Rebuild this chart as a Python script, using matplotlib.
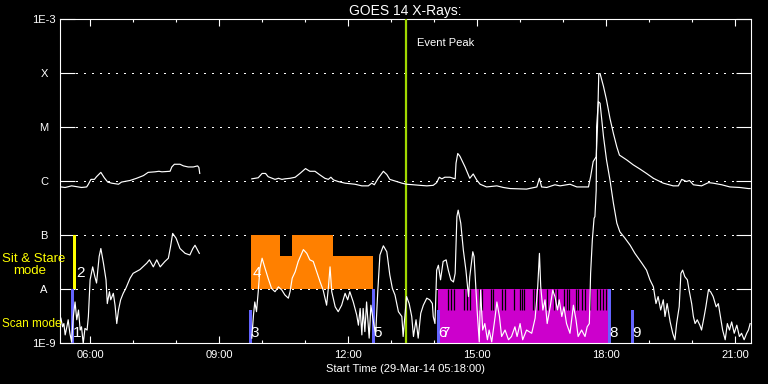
import numpy as np
import matplotlib
matplotlib.use("Agg")
import matplotlib.pyplot as plt
from matplotlib.ticker import NullLocator

plt.rcParams['font.family'] = ['Liberation Sans', 'DejaVu Sans']

# GOES 14 XRS, (hour UT, log10 flux W/m^2); data gap between 08:33 and 09:45
long_am = [(5.32, -6.11), (5.42, -6.12), (5.57, -6.09), (5.65, -6.10), (5.80, -6.12),
           (5.92, -6.11), (5.96, -6.06), (6.02, -5.97), (6.10, -5.97), (6.15, -5.92),
           (6.25, -5.84), (6.33, -5.94), (6.41, -6.02), (6.50, -6.04), (6.66, -6.06),
           (6.73, -6.02), (6.93, -5.99), (7.08, -5.95), (7.24, -5.90), (7.35, -5.84),
           (7.51, -5.83), (7.60, -5.82), (7.67, -5.83), (7.86, -5.82), (7.90, -5.74),
           (7.96, -5.69), (8.09, -5.69), (8.17, -5.72), (8.28, -5.74), (8.40, -5.74),
           (8.50, -5.72), (8.53, -5.75), (8.55, -5.86)]
long_pm = [(9.76, -5.96), (9.91, -5.94), (10.00, -5.86), (10.08, -5.86), (10.14, -5.92),
           (10.30, -5.97), (10.38, -5.95), (10.46, -5.97), (10.53, -5.96), (10.65, -5.95),
           (10.77, -5.93), (10.88, -5.86), (11.01, -5.77), (11.11, -5.82), (11.23, -5.82),
           (11.35, -5.89), (11.46, -5.95), (11.54, -5.97), (11.60, -5.93), (11.66, -5.98),
           (11.77, -6.01), (11.93, -6.04), (12.16, -6.06), (12.32, -6.09), (12.47, -6.09),
           (12.55, -6.04), (12.61, -6.07), (12.70, -5.95), (12.82, -5.82), (12.90, -5.88),
           (12.97, -5.97), (13.09, -6.00), (13.25, -6.04), (13.36, -6.06), (13.52, -6.07),
           (13.67, -6.08), (13.83, -6.09), (13.98, -6.08), (14.06, -6.03), (14.12, -5.93),
           (14.18, -5.96), (14.25, -5.93), (14.37, -5.93), (14.49, -5.96), (14.51, -5.67),
           (14.55, -5.49), (14.60, -5.54), (14.72, -5.74), (14.83, -5.95), (14.91, -5.87),
           (14.99, -5.98), (15.07, -6.06), (15.22, -6.11), (15.46, -6.09), (15.61, -6.12),
           (15.77, -6.14), (16.15, -6.15), (16.39, -6.11), (16.45, -5.95), (16.50, -6.11),
           (16.62, -6.12), (16.81, -6.07), (16.93, -6.09), (17.16, -6.06), (17.32, -6.11),
           (17.59, -6.11), (17.64, -5.92), (17.70, -5.64), (17.77, -5.55), (17.80, -4.99),
           (17.83, -4.01), (17.86, -4.01), (17.94, -4.25), (18.01, -4.50), (18.09, -4.84),
           (18.17, -5.12), (18.25, -5.37), (18.31, -5.52), (18.48, -5.61), (18.63, -5.70),
           (18.79, -5.78), (18.94, -5.86), (19.10, -5.95), (19.33, -6.04), (19.56, -6.09),
           (19.68, -6.09), (19.76, -5.97), (19.87, -6.01), (19.94, -5.99), (20.03, -6.07),
           (20.22, -6.09), (20.38, -6.03), (20.49, -6.04), (20.69, -6.07), (20.88, -6.11),
           (21.11, -6.12), (21.31, -6.14), (21.35, -6.14)]

short_am = [(5.32, -8.54), (5.36, -8.70), (5.39, -8.64), (5.42, -8.85), (5.46, -8.70),
            (5.49, -8.57), (5.53, -8.82), (5.57, -8.98), (5.61, -8.51), (5.65, -8.24),
            (5.69, -8.57), (5.73, -8.39), (5.77, -8.76), (5.80, -8.70), (5.84, -9.01),
            (5.88, -8.73), (5.93, -8.76), (5.96, -8.51), (6.00, -7.83), (6.06, -7.59),
            (6.11, -7.77), (6.15, -7.89), (6.21, -7.40), (6.25, -7.25), (6.31, -7.52),
            (6.37, -7.83), (6.40, -8.27), (6.45, -8.05), (6.48, -8.20), (6.54, -8.08),
            (6.58, -8.30), (6.62, -8.64), (6.66, -8.39), (6.71, -8.20), (6.77, -8.08),
            (6.83, -7.99), (6.93, -7.80), (7.00, -7.71), (7.16, -7.64), (7.32, -7.52),
            (7.38, -7.46), (7.47, -7.59), (7.55, -7.46), (7.63, -7.59), (7.74, -7.49),
            (7.82, -7.43), (7.87, -7.22), (7.92, -6.97), (8.00, -7.06), (8.09, -7.25),
            (8.21, -7.34), (8.32, -7.37), (8.39, -7.25), (8.44, -7.19), (8.54, -7.34)]
short_pm = [(9.76, -8.91), (9.80, -8.48), (9.83, -8.24), (9.87, -8.42), (9.91, -8.05),
            (9.95, -7.62), (10.00, -7.43), (10.07, -7.62), (10.14, -7.80), (10.22, -7.99),
            (10.30, -8.05), (10.38, -7.96), (10.46, -8.02), (10.53, -8.11), (10.61, -8.17),
            (10.65, -8.05), (10.70, -7.80), (10.77, -7.68), (10.84, -7.49), (10.96, -7.27),
            (11.04, -7.34), (11.11, -7.46), (11.19, -7.49), (11.27, -7.68), (11.35, -7.87),
            (11.42, -8.02), (11.50, -8.30), (11.54, -7.99), (11.58, -7.59), (11.62, -8.05),
            (11.70, -8.33), (11.77, -8.42), (11.85, -8.30), (11.93, -8.08), (11.99, -8.20),
            (12.04, -8.05), (12.12, -8.24), (12.20, -8.48), (12.24, -8.67), (12.28, -8.36),
            (12.32, -8.85), (12.35, -8.36), (12.39, -8.79), (12.43, -8.24), (12.49, -8.91),
            (12.53, -8.30), (12.59, -8.61), (12.64, -8.85), (12.69, -8.05), (12.74, -7.37),
            (12.82, -7.20), (12.90, -7.31), (12.97, -7.74), (13.03, -7.99), (13.09, -8.11),
            (13.17, -8.42), (13.25, -8.51), (13.28, -8.88), (13.36, -8.14), (13.42, -8.27),
            (13.48, -8.51), (13.52, -8.88), (13.58, -8.57), (13.63, -8.91), (13.69, -8.45),
            (13.75, -8.30), (13.83, -8.17), (13.90, -8.20), (13.96, -8.27), (13.98, -8.51),
            (14.02, -8.64), (14.06, -7.65), (14.10, -7.56), (14.15, -7.83), (14.21, -7.49),
            (14.28, -7.46), (14.33, -7.65), (14.39, -7.83), (14.45, -7.87), (14.49, -7.71),
            (14.53, -6.66), (14.56, -6.54), (14.62, -6.78), (14.68, -7.28), (14.74, -7.65),
            (14.80, -8.14), (14.83, -7.77), (14.90, -7.31), (14.93, -7.40), (14.97, -7.96),
            (15.00, -8.39), (15.05, -8.98), (15.08, -8.02), (15.13, -8.76), (15.18, -8.64),
            (15.24, -8.94), (15.28, -8.76), (15.34, -8.98), (15.42, -8.51), (15.46, -8.24),
            (15.52, -8.51), (15.57, -8.88), (15.65, -8.76), (15.73, -8.94), (15.80, -8.88),
            (15.88, -8.70), (15.93, -8.88), (16.00, -8.64), (16.06, -8.94), (16.15, -8.76),
            (16.27, -8.82), (16.35, -8.54), (16.41, -7.96), (16.45, -7.34), (16.48, -7.96),
            (16.53, -8.39), (16.58, -8.20), (16.63, -8.64), (16.70, -8.33), (16.76, -8.02),
            (16.81, -8.14), (16.87, -8.39), (16.91, -8.20), (16.97, -8.51), (17.02, -8.33),
            (17.08, -8.64), (17.16, -8.82), (17.24, -8.30), (17.30, -8.57), (17.35, -8.88),
            (17.43, -8.76), (17.51, -8.88), (17.56, -8.70), (17.61, -8.64), (17.64, -7.71),
            (17.68, -7.09), (17.72, -6.69), (17.74, -6.66), (17.77, -6.17), (17.78, -4.99),
            (17.82, -4.53), (17.86, -4.56), (17.94, -5.18), (18.01, -5.61), (18.09, -5.98),
            (18.17, -6.41), (18.25, -6.78), (18.32, -6.94), (18.44, -7.06), (18.56, -7.19),
            (18.67, -7.34), (18.75, -7.43), (18.83, -7.52), (18.94, -7.65), (19.02, -7.83),
            (19.10, -7.96), (19.16, -8.27), (19.21, -8.14), (19.27, -8.39), (19.33, -8.20),
            (19.37, -8.51), (19.42, -8.27), (19.49, -8.61), (19.55, -8.82), (19.60, -8.94),
            (19.64, -8.64), (19.70, -8.33), (19.74, -7.71), (19.78, -7.65), (19.83, -7.77),
            (19.89, -7.83), (19.93, -8.02), (19.99, -8.27), (20.03, -8.51), (20.07, -8.64),
            (20.12, -8.57), (20.18, -8.67), (20.22, -8.76), (20.28, -8.51), (20.32, -8.33),
            (20.38, -8.02), (20.43, -8.05), (20.49, -8.14), (20.56, -8.33), (20.61, -8.27),
            (20.67, -8.57), (20.71, -8.76), (20.77, -8.94), (20.82, -8.64), (20.87, -8.76),
            (20.92, -8.61), (20.98, -8.82), (21.04, -8.67), (21.10, -8.88), (21.15, -8.82),
            (21.21, -8.94), (21.27, -8.82), (21.31, -8.76), (21.35, -8.64)]

# IRIS observation modes
scan_start = [5.56, 9.70, 12.56, 14.07, 18.04, 18.58]
scan_top = [-8.0, -8.39, -8.0, -8.39, -8.0, -8.39]
scan_names = ['1', '3', '5', '6', '8', '9']
scan_width = 0.07

sit_start = [5.60, 9.74, 10.42, 10.70, 11.65]
sit_end = [5.67, 10.42, 10.70, 11.65, 12.58]
sit_top = [-7.0, -7.0, -7.39, -7.0, -7.39]
sit_colors = ['#ffff00', '#ff8000', '#ff8000', '#ff8000', '#ff8000']

mag_start, mag_end = 14.09, 18.05
mag_gaps = [14.32, 14.39, 14.46, 14.70, 14.77, 14.83, 15.04, 15.11, 15.32, 15.37,
            15.58, 15.65, 15.86, 16.00, 16.04, 16.09, 16.30, 16.35, 16.42, 16.63,
            16.79, 16.86, 17.02, 17.09, 17.14, 17.30, 17.35, 17.44, 17.51, 17.63,
            17.79, 17.86, 17.93, 18.00]

sit_label_t = [5.64, 9.74, 14.12]
sit_label_lg = [-7.71, -7.71, -8.81]
sit_names = ['2', '4', '7']

event_peak = 13.335
level_names = ['1E-9', 'A', 'B', 'C', 'M', 'X', '1E-3']
hour_ticks = [6, 9, 12, 15, 18, 21]
hour_labels = ['06:00', '09:00', '12:00', '15:00', '18:00', '21:00']

fig = plt.figure(figsize=(7.68, 3.84), dpi=100, facecolor='black')
ax = fig.add_axes([60 / 768, 41 / 384, 691 / 768, 324 / 384])
ax.set_facecolor('black')
ax.set_yscale('log')
ax.set_ylim(1e-9, 1e-3)
ax.set_xlim(5.3, 21.37)

for lv in range(-8, -3):
    ax.axhline(10.0 ** lv, color='white', lw=0.9, ls=(0, (1, 5)), antialiased=False, zorder=1)

# sit & stare blocks
for s, e, top, c in zip(sit_start, sit_end, sit_top, sit_colors):
    ax.bar(s, 10 ** top - 1e-8, bottom=1e-8, width=e - s, align='edge', color=c, lw=0, zorder=2)
ax.bar(mag_start, 1e-8 - 1e-9, bottom=1e-9, width=mag_end - mag_start, align='edge',
       color='#cc00cc', lw=0, zorder=2)
ax.vlines(mag_gaps, 10 ** -8.39, 1e-8, color='black', lw=0.9, zorder=2)

# scan mode bars
for s, top in zip(scan_start, scan_top):
    ax.bar(s, 10 ** top - 1e-9, bottom=1e-9, width=scan_width, align='edge',
           color='#6464ff', lw=0, zorder=2.5)

for seg in [long_am, long_pm, short_am, short_pm]:
    t, lg = np.array(seg).T
    ax.plot(t, 10 ** lg, color='white', lw=0.85, zorder=4)

for s, name in zip(scan_start, scan_names):
    ax.text(s + 0.03, 10 ** -8.81, name, color='white', fontsize=11, va='center', ha='left', zorder=5)
for s, lg, name in zip(sit_label_t, sit_label_lg, sit_names):
    ax.text(s + 0.04, 10 ** lg, name, color='white', fontsize=11, va='center', ha='left', zorder=5)

ax.axvline(event_peak, color='#a0d800', lw=1.6, zorder=3)
ax.text(event_peak + 0.26, 10 ** -3.44, 'Event Peak', color='white', fontsize=8, va='center')

ax.set_yticks([10.0 ** k for k in range(-9, -2)], level_names)
ax.yaxis.set_minor_locator(NullLocator())
plt.setp(ax.get_yticklabels(), ha='center')
ax.set_xticks(hour_ticks, hour_labels)
ax.set_xticks(range(6, 22), minor=True)

ax.tick_params(axis='both', which='both', direction='in', colors='white',
               top=True, right=True, width=0.8, labelsize=8)
ax.tick_params(axis='y', length=10.5, pad=11.5)
ax.tick_params(axis='x', which='major', length=5, pad=5)
ax.tick_params(axis='x', which='minor', length=2.5)
for sp in ax.spines.values():
    sp.set_color('white')
    sp.set_linewidth(0.8)

ax.set_title('GOES 14 X-Rays:', color='white', fontsize=10, pad=3)
ax.set_xlabel('Start Time (29-Mar-14 05:18:00)', color='white', fontsize=8, labelpad=3)

fig.text(2 / 768, 1 - 259 / 384, 'Sit & Stare', color='#ffff00', fontsize=9.5, va='center')
fig.text(13 / 768, 1 - 271 / 384, 'mode', color='#ffff00', fontsize=9.5, va='center')
fig.text(2 / 768, 1 - 324 / 384, 'Scan mode', color='#ffff00', fontsize=8.5, va='center')

fig.savefig('out.png', dpi=100, facecolor='black')
